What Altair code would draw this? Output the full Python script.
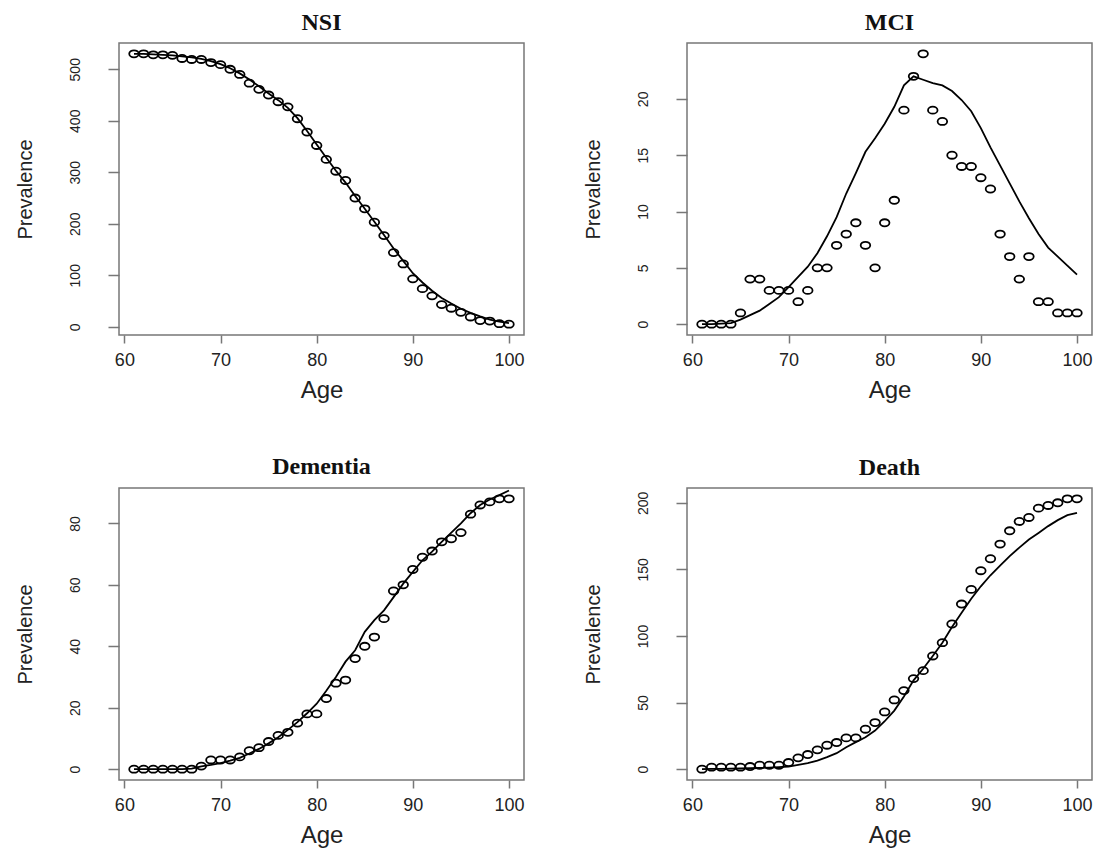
import altair as alt
import pandas as pd

ages = list(range(61, 101))

nsi_obs = [530, 530, 528, 528, 527, 521, 519, 519, 513, 509,
           500, 490, 473, 461, 450, 437, 427, 404, 378, 352,
           325, 302, 284, 250, 229, 203, 177, 144, 122, 93,
           74, 60, 43, 36, 28, 19, 12, 11, 6, 5]
nsi_fit = [530, 530, 529, 528, 527, 525, 523, 520, 516, 510,
           502, 492, 480, 467, 453, 440, 425, 405, 380, 354,
           328, 303, 280, 254, 229, 204, 178, 152, 128, 104,
           86, 70, 56, 45, 35, 27, 20, 14, 10, 7]

mci_obs = [0, 0, 0, 0, 1, 4, 4, 3, 3, 3,
           2, 3, 5, 5, 7, 8, 9, 7, 5, 9,
           11, 19, 22, 24, 19, 18, 15, 14, 14, 13,
           12, 8, 6, 4, 6, 2, 2, 1, 1, 1]
mci_fit = [0, 0, 0.05, 0.1, 0.4, 0.8, 1.2, 1.8, 2.4, 3.3,
           4.2, 5.1, 6.3, 7.8, 9.5, 11.6, 13.4, 15.3, 16.5, 17.8,
           19.3, 21.2, 22.0, 21.7, 21.4, 21.2, 20.7, 19.9, 18.9, 17.4,
           15.7, 14.1, 12.5, 10.9, 9.4, 8.0, 6.8, 6.0, 5.2, 4.4]

dem_obs = [0, 0, 0, 0, 0, 0, 0, 1, 3, 3,
           3, 4, 6, 7, 9, 11, 12, 15, 18, 18,
           23, 28, 29, 36, 40, 43, 49, 58, 60, 65,
           69, 71, 74, 75, 77, 83, 86, 87, 88, 88]
dem_fit = [0, 0, 0, 0, 0, 0, 0.2, 0.9, 1.4, 2.0,
           2.8, 3.7, 5.1, 6.6, 8.4, 10.4, 12.8, 15.3, 18.2, 21.3,
           25.5, 30.0, 35.0, 38.7, 44.7, 48.5, 51.7, 56.0, 60.4, 64.2,
           68.0, 70.8, 74.0, 77.0, 80.0, 83.3, 86.0, 87.8, 89.2, 90.7]

death_obs = [0, 1.5, 1.5, 1.5, 1.5, 2, 3, 3, 3, 5,
             8.5, 11, 14.5, 18, 20, 23.5, 23.5, 30, 35, 43,
             52, 59, 68, 74, 85, 95, 109, 124, 135, 149,
             158, 169, 179, 186, 189, 196, 198, 200, 203, 203]
death_fit = [0, 0.2, 0.3, 0.4, 0.5, 0.7, 0.9, 1.2, 1.6, 2.0,
             3.3, 4.5, 6.5, 9.0, 12.0, 16.5, 20.3, 24.0, 29.0, 36.0,
             44.0, 54.6, 66.7, 75.4, 85.0, 95.0, 106.8, 117.5, 128.0, 137.3,
             145.6, 152.8, 160.0, 166.4, 172.4, 177.4, 182.5, 187.0, 190.7, 192.5]

x_ticks = [60, 70, 80, 90, 100]
x_domain = [59.44, 101.56]

ELLIPSE = "M -1.35 0 A 1.35 1 0 1 0 1.35 0 A 1.35 1 0 1 0 -1.35 0 Z"


def panel(title, obs, fit, ydom, yticks):
    dp = pd.DataFrame({"Age": ages, "Prevalence": obs})
    dl = pd.DataFrame({"Age": ages, "Prevalence": fit})
    x = alt.X("Age:Q", scale=alt.Scale(domain=x_domain, nice=False, zero=False),
              axis=alt.Axis(values=x_ticks, title="Age", format="d"))
    y = alt.Y("Prevalence:Q", scale=alt.Scale(domain=ydom, nice=False, zero=False),
              axis=alt.Axis(values=yticks, title="Prevalence", format="d"))
    line = alt.Chart(dl).mark_line(color="black", strokeWidth=1.8).encode(x=x, y=y)
    pts = alt.Chart(dp).mark_point(shape=ELLIPSE, size=50, filled=False,
                                   stroke="black", strokeWidth=1.8, opacity=1).encode(x=x, y=y)
    return alt.layer(line, pts).properties(
        width=405, height=292,
        title=alt.TitleParams(title, font="Liberation Serif", fontWeight="bold",
                              fontSize=24, color="#111", offset=8),
    )


p1 = panel("NSI", nsi_obs, nsi_fit, [-16, 551], [0, 100, 200, 300, 400, 500])
p2 = panel("MCI", mci_obs, mci_fit, [-0.96, 24.96], [0, 5, 10, 15, 20])
p3 = panel("Dementia", dem_obs, dem_fit, [-3.52, 91.52], [0, 20, 40, 60, 80])
p4 = panel("Death", death_obs, death_fit, [-8.12, 211.12], [0, 50, 100, 150, 200])

chart = alt.vconcat(
    alt.hconcat(p1, p2, spacing=57),
    alt.hconcat(p3, p4, spacing=57),
    spacing=51,
).properties(
    padding={"top": 2, "left": 6, "right": 5, "bottom": 5}
).configure_view(
    stroke="#777", strokeWidth=1.5
).configure_axis(
    grid=False, domain=False, tickColor="#777", tickWidth=1.5,
    labelColor="#222", titleColor="#222", labelFont="Liberation Sans",
    titleFont="Liberation Sans", titleFontWeight="normal",
).configure_axisX(
    tickSize=8, labelFontSize=18, labelPadding=8, titleFontSize=24, titlePadding=9,
).configure_axisY(
    tickSize=11, labelFontSize=14, labelAngle=-90, labelAlign="center",
    labelBaseline="bottom", labelPadding=26, titleFontSize=20, titlePadding=33,
)

chart.save("out.html", embed_options={"renderer": "svg", "actions": False})
